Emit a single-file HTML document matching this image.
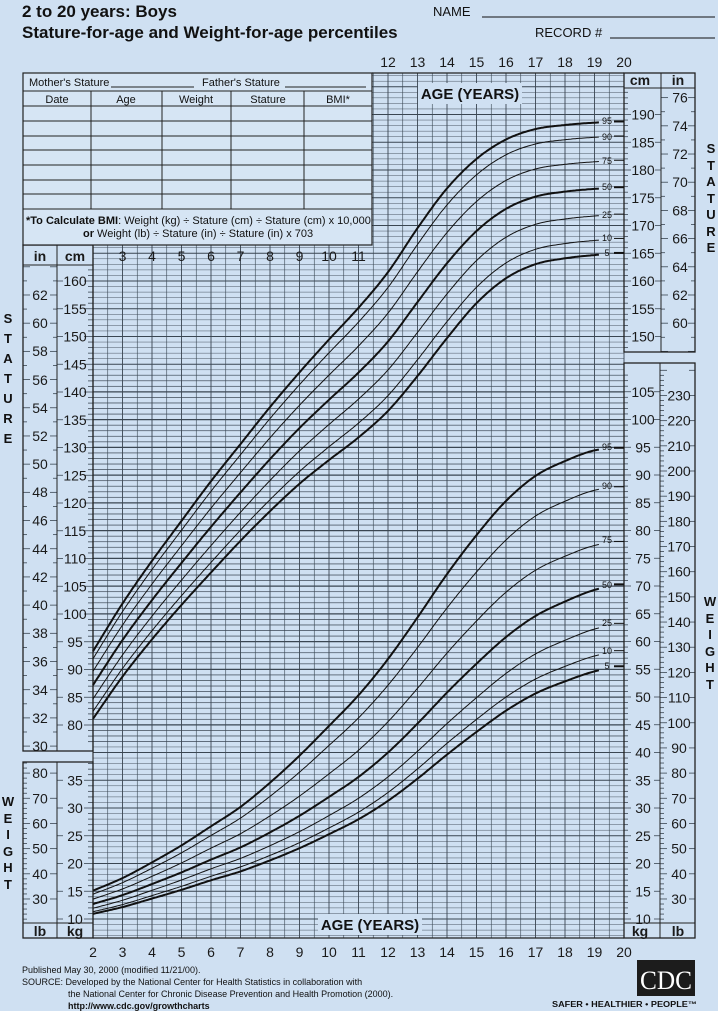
<!DOCTYPE html>
<html><head><meta charset="utf-8"><style>
html,body{margin:0;padding:0;background:#cfe0f2;}
svg{display:block;font-family:"Liberation Sans",Arial,sans-serif;}
.n{font-size:14px;fill:#1a1a1a;text-anchor:middle;dominant-baseline:central;}
.b{font-weight:bold;}
.t{font-size:11px;fill:#111;}
.p{font-size:9px;fill:#111;text-anchor:middle;dominant-baseline:central;}
.v{font-size:13px;font-weight:bold;fill:#111;text-anchor:middle;}
</style></head><body>
<svg id="s" width="718" height="1011" viewBox="0 0 718 1011" xmlns="http://www.w3.org/2000/svg">
<rect width="718" height="1011" fill="#cfe0f2"/>
<g id="dyn"></g>
<text x="22" y="17" font-size="17" font-weight="bold" fill="#111">2 to 20 years: Boys</text>
<text x="22" y="38" font-size="17" font-weight="bold" fill="#111">Stature-for-age and Weight-for-age percentiles</text>
<text x="433" y="16" font-size="13" fill="#111">NAME</text>
<line x1="482" y1="17" x2="715" y2="17" stroke="#111" stroke-width="1"/>
<text x="535" y="37" font-size="13" fill="#111">RECORD #</text>
<line x1="610" y1="38" x2="715" y2="38" stroke="#111" stroke-width="1"/>
<g class="n"><text x="388" y="62">12</text><text x="417.5" y="62">13</text><text x="447" y="62">14</text><text x="476.5" y="62">15</text><text x="506" y="62">16</text><text x="535.5" y="62">17</text><text x="565" y="62">18</text><text x="594.5" y="62">19</text><text x="624" y="62">20</text></g>
<rect x="23" y="73" width="349" height="172" fill="#d6e5f4" stroke="#222" stroke-width="1.2"/>
<g stroke="#222" stroke-width="1">
<line x1="23" y1="91" x2="372" y2="91"/><line x1="23" y1="106" x2="372" y2="106"/><line x1="23" y1="121" x2="372" y2="121"/><line x1="23" y1="136" x2="372" y2="136"/><line x1="23" y1="150" x2="372" y2="150"/><line x1="23" y1="165" x2="372" y2="165"/><line x1="23" y1="180" x2="372" y2="180"/><line x1="23" y1="194" x2="372" y2="194"/><line x1="23" y1="209" x2="372" y2="209"/>
<line x1="91" y1="91" x2="91" y2="209"/><line x1="162" y1="91" x2="162" y2="209"/><line x1="231" y1="91" x2="231" y2="209"/><line x1="304" y1="91" x2="304" y2="209"/>
<line x1="111" y1="87" x2="194" y2="87"/><line x1="285" y1="87" x2="366" y2="87"/>
</g>
<text class="t" x="29" y="86">Mother's Stature</text>
<text class="t" x="202" y="86">Father's Stature</text>
<g class="t" text-anchor="middle"><text x="57" y="103">Date</text><text x="126" y="103">Age</text><text x="196" y="103">Weight</text><text x="268" y="103">Stature</text><text x="338" y="103">BMI*</text></g>
<text class="t" x="26" y="224"><tspan font-weight="bold">*To Calculate BMI</tspan>: Weight (kg) ÷ Stature (cm) ÷ Stature (cm) x 10,000</text>
<text class="t" x="83" y="237"><tspan font-weight="bold">or</tspan> Weight (lb) ÷ Stature (in) ÷ Stature (in) x 703</text>
<g class="n">
<text x="122.5" y="256">3</text><text x="152" y="256">4</text><text x="181.5" y="256">5</text><text x="211" y="256">6</text><text x="240.5" y="256">7</text><text x="270" y="256">8</text><text x="299.5" y="256">9</text><text x="329" y="256">10</text><text x="358.5" y="256">11</text></g>
<g class="n b"><text x="40" y="256">in</text><text x="75" y="256">cm</text><text x="640" y="80">cm</text><text x="678" y="80">in</text>
<text x="40" y="931">lb</text><text x="75" y="931">kg</text><text x="640" y="931">kg</text><text x="678" y="931">lb</text></g>
<rect x="418" y="83" width="104" height="21" fill="#cfe0f2"/>
<text x="470" y="99" font-size="15" font-weight="bold" text-anchor="middle" fill="#111">AGE (YEARS)</text>
<rect x="318" y="914" width="104" height="21" fill="#cfe0f2"/>
<text x="370" y="930" font-size="15" font-weight="bold" text-anchor="middle" fill="#111">AGE (YEARS)</text>
<g class="n">
<text x="75" y="281">160</text><text x="75" y="308.75">155</text><text x="75" y="336.5">150</text><text x="75" y="364.25">145</text><text x="75" y="392">140</text><text x="75" y="419.75">135</text><text x="75" y="447.5">130</text><text x="75" y="475.25">125</text><text x="75" y="503">120</text><text x="75" y="530.75">115</text><text x="75" y="558.5">110</text><text x="75" y="586.25">105</text><text x="75" y="614">100</text><text x="75" y="641.75">95</text><text x="75" y="669.5">90</text><text x="75" y="697.25">85</text><text x="75" y="725">80</text>
<text x="40" y="746">30</text><text x="40" y="718">32</text><text x="40" y="690">34</text><text x="40" y="661.5">36</text><text x="40" y="633">38</text><text x="40" y="605">40</text><text x="40" y="577">42</text><text x="40" y="549">44</text><text x="40" y="520.5">46</text><text x="40" y="492">48</text><text x="40" y="464">50</text><text x="40" y="436">52</text><text x="40" y="408">54</text><text x="40" y="380">56</text><text x="40" y="351">58</text><text x="40" y="323">60</text><text x="40" y="295">62</text>
<text x="680" y="323">60</text><text x="680" y="295">62</text><text x="680" y="267">64</text><text x="680" y="238.6">66</text><text x="680" y="210.4">68</text><text x="680" y="182.2">70</text><text x="680" y="154">72</text><text x="680" y="125.8">74</text><text x="680" y="97.6">76</text>
<text x="643" y="336.5">150</text><text x="643" y="308.75">155</text><text x="643" y="281">160</text><text x="643" y="253.25">165</text><text x="643" y="225.5">170</text><text x="643" y="197.75">175</text><text x="643" y="170">180</text><text x="643" y="142.25">185</text><text x="643" y="114.5">190</text>
<text x="643" y="919">10</text><text x="643" y="891.25">15</text><text x="643" y="863.5">20</text><text x="643" y="835.75">25</text><text x="643" y="808">30</text><text x="643" y="780.25">35</text><text x="643" y="752.5">40</text><text x="643" y="724.75">45</text><text x="643" y="697">50</text><text x="643" y="669.25">55</text><text x="643" y="641.5">60</text><text x="643" y="613.75">65</text><text x="643" y="586">70</text><text x="643" y="558.25">75</text><text x="643" y="530.5">80</text><text x="643" y="502.75">85</text><text x="643" y="475">90</text><text x="643" y="447.25">95</text><text x="643" y="419.5">100</text><text x="643" y="391.75">105</text>
<text x="679" y="899">30</text><text x="679" y="873.8">40</text><text x="679" y="848.6">50</text><text x="679" y="823.5">60</text><text x="679" y="798.3">70</text><text x="679" y="773.1">80</text><text x="679" y="747.9">90</text><text x="679" y="722.8">100</text><text x="679" y="697.6">110</text><text x="679" y="672.4">120</text><text x="679" y="647.2">130</text><text x="679" y="622.1">140</text><text x="679" y="596.9">150</text><text x="679" y="571.7">160</text><text x="679" y="546.5">170</text><text x="679" y="521.4">180</text><text x="679" y="496.2">190</text><text x="679" y="471">200</text><text x="679" y="445.8">210</text><text x="679" y="420.6">220</text><text x="679" y="395.5">230</text>
<text x="40" y="899">30</text><text x="40" y="873.8">40</text><text x="40" y="848.6">50</text><text x="40" y="823.5">60</text><text x="40" y="798.3">70</text><text x="40" y="773.1">80</text>
<text x="75" y="919">10</text><text x="75" y="891.25">15</text><text x="75" y="863.5">20</text><text x="75" y="835.75">25</text><text x="75" y="808">30</text><text x="75" y="780.25">35</text>
<text x="93" y="952">2</text><text x="122.5" y="952">3</text><text x="152" y="952">4</text><text x="181.5" y="952">5</text><text x="211" y="952">6</text><text x="240.5" y="952">7</text><text x="270" y="952">8</text><text x="299.5" y="952">9</text><text x="329" y="952">10</text><text x="358.5" y="952">11</text><text x="388" y="952">12</text><text x="417.5" y="952">13</text><text x="447" y="952">14</text><text x="476.5" y="952">15</text><text x="506" y="952">16</text><text x="535.5" y="952">17</text><text x="565" y="952">18</text><text x="594.5" y="952">19</text><text x="624" y="952">20</text>
</g>
<g class="p">
<text x="607" y="121">95</text><text x="607" y="137">90</text><text x="607" y="161">75</text><text x="607" y="187">50</text><text x="607" y="215">25</text><text x="607" y="238">10</text><text x="607" y="253">5</text>
<text x="607" y="447">95</text><text x="607" y="486">90</text><text x="607" y="540">75</text><text x="607" y="585">50</text><text x="607" y="623">25</text><text x="607" y="651">10</text><text x="607" y="666">5</text>
</g>
<g class="v">
<text x="8" y="323">S</text><text x="8" y="343">T</text><text x="8" y="363">A</text><text x="8" y="383">T</text><text x="8" y="403">U</text><text x="8" y="423">R</text><text x="8" y="443">E</text>
<text x="711" y="153">S</text><text x="711" y="170">T</text><text x="711" y="186">A</text><text x="711" y="203">T</text><text x="711" y="219">U</text><text x="711" y="236">R</text><text x="711" y="252">E</text>
<text x="8" y="806">W</text><text x="8" y="823">E</text><text x="8" y="839">I</text><text x="8" y="856">G</text><text x="8" y="872">H</text><text x="8" y="889">T</text>
<text x="710" y="606">W</text><text x="710" y="623">E</text><text x="710" y="639">I</text><text x="710" y="656">G</text><text x="710" y="672">H</text><text x="710" y="689">T</text>
</g>
<g font-size="9" fill="#111">
<text x="22" y="973">Published May 30, 2000 (modified 11/21/00).</text>
<text x="22" y="985">SOURCE: Developed by the National Center for Health Statistics in collaboration with</text>
<text x="68" y="997">the National Center for Chronic Disease Prevention and Health Promotion (2000).</text>
<text x="68" y="1009" font-weight="bold">http://www.cdc.gov/growthcharts</text>
</g>
<rect x="637" y="960" width="58" height="36" fill="#1c1c1c"/>
<text x="666" y="989" font-size="26" font-family="Liberation Serif,serif" fill="#fff" text-anchor="middle" textLength="52" lengthAdjust="spacingAndGlyphs">CDC</text>
<text x="552" y="1007" font-size="8" font-weight="bold" fill="#111" textLength="145" lengthAdjust="spacingAndGlyphs">SAFER • HEALTHIER • PEOPLE™</text>
</svg>
<script>
(function(){
const X=a=>93+(a-2)*29.5, YS=c=>281+(160-c)*5.55, YW=k=>919-(k-10)*5.55;
let s='';const C='#3a4652';
function L(x1,y1,x2,y2,w,c){s+='<line x1="'+x1.toFixed(2)+'" y1="'+y1.toFixed(2)+'" x2="'+x2.toFixed(2)+'" y2="'+y2.toFixed(2)+'" stroke="'+(c||C)+'" stroke-width="'+w+'"/>';}
for(let i=0;i<=36;i++){const x=X(2+i/2);const top=x>=372?73:245;L(x,top,x,938,i%2?0.6:0.9);}
for(let cm=77;cm<=197;cm++){const y=YS(cm);if(y<74||y>751)continue;const x1=y<245?372:93;const m=cm%5==0;L(x1,y,624,y,m?1.1:0.45);
 if(y>265){L(m?84:88,y,93,y,0.8);if(m)L(57,y,63,y,0.8);}
 if(y<352&&y>88){L(624,y,m?631:628,y,0.8);if(m)L(655,y,661,y,0.8);}}
for(let inch=29;inch<=77;inch++){const y=1169-14.097*inch;const e=inch%2==0;
 if(y>265&&y<751){L(23,y,e?30:27,y,0.8);L(e?50:53,y,57,y,0.8);}
 if(y>88&&y<352){L(661,y,e?668:665,y,0.8);L(e?688:691,y,695,y,0.8);}}
for(let kg=7;kg<=108;kg++){const y=YW(kg);if(y<364||y>937)continue;const m=kg%5==0;L(93,y,624,y,m?1.1:0.45);
 if(y<923){L(624,y,m?631:628,y,0.8);if(m)L(654,y,660,y,0.8);
 if(y>762){L(m?84:88,y,93,y,0.8);if(m)L(57,y,63,y,0.8);}}}
for(let lb=20;lb<=240;lb+=2){const y=974.5-2.5175*lb;if(y<364||y>922)continue;const m=lb%10==0;
 L(660,y,m?667:664,y,0.8);if(m)L(689,y,695,y,0.8);
 if(y>762){L(23,y,m?30:27,y,0.8);if(m)L(50,y,57,y,0.8);}}
const B='#222';
s+='<rect x="23" y="245" width="70" height="506" fill="none" stroke="'+B+'" stroke-width="1.3"/>';
L(57,245,57,751,1,B);L(23,265,93,265,1,B);
s+='<rect x="23" y="762" width="70" height="176" fill="none" stroke="'+B+'" stroke-width="1.3"/>';
L(57,762,57,938,1,B);L(23,923,93,923,1,B);
s+='<rect x="624" y="73" width="71" height="279" fill="none" stroke="'+B+'" stroke-width="1.3"/>';
L(661,73,661,352,1,B);L(624,88,695,88,1,B);
s+='<rect x="624" y="363" width="71" height="575" fill="none" stroke="'+B+'" stroke-width="1.3"/>';
L(660,363,660,938,1,B);L(624,923,695,923,1,B);
L(372,73,624,73,1.3,B);L(93,938,624,938,1.3,B);L(93,245,93,938,1.1,B);
function cr(a,t){const n=a.length;let i=Math.floor(t);if(i>=n-1)i=n-2;if(i<0)i=0;const f=t-i;
 const p1=a[i],p2=a[i+1];const p0=i>0?a[i-1]:2*p1-p2;const p3=i+2<n?a[i+2]:2*p2-p1;
 return 0.5*((2*p1)+(-p0+p2)*f+(2*p0-5*p1+4*p2-p3)*f*f+(-p0+3*p1-3*p2+p3)*f*f*f);}
const medS=[87.2,95.3,102.5,109.2,115.7,121.9,127.9,133.5,138.6,143.5,149.1,156.2,163.2,169.0,173.0,175.2,176.1,176.6,176.9];
const sdS=[3.7,4.0,4.3,4.6,5.0,5.3,5.7,6.1,6.6,7.1,7.6,8.1,8.2,7.9,7.6,7.4,7.3,7.25,7.2];
const medW=[12.7,14.3,16.3,18.4,20.7,22.9,25.6,28.6,32.0,35.6,40.0,45.2,50.8,56.0,60.8,64.6,67.2,69.3,70.3];
const Z=[-1.645,-1.282,-0.674,0,0.674,1.282,1.645];
const RA=[2,6,10,14,20];
const R=[[.86,.82,.79,.78,.79],[.89,.855,.825,.82,.83],[.94,.92,.895,.89,.90],[1,1,1,1,1],[1.07,1.10,1.13,1.14,1.11],[1.14,1.21,1.29,1.30,1.25],[1.19,1.29,1.40,1.42,1.35]];
for(let p=0;p<7;p++){const w=(p==0||p==3||p==6)?2:1;let ps='',pw='';
 const rt=R[p];
 const rf=a=>cr(rt,(function(){for(let i=0;i<RA.length-1;i++){if(a<=RA[i+1])return i+(a-RA[i])/(RA[i+1]-RA[i]);}return RA.length-1;})());
 for(let a=2;a<=19.151;a+=0.05){const t=a-2;
  const cm=cr(medS,t)+Z[p]*cr(sdS,t);
  const kg=cr(medW,t)*rf(a);
  ps+=X(a).toFixed(1)+','+YS(cm).toFixed(1)+' ';pw+=X(a).toFixed(1)+','+YW(kg).toFixed(1)+' ';}
 s+='<polyline points="'+ps+'" fill="none" stroke="#111" stroke-width="'+w+'" stroke-linejoin="round"/>';
 s+='<polyline points="'+pw+'" fill="none" stroke="#111" stroke-width="'+w+'" stroke-linejoin="round"/>';
 const ys=YS(176.9+Z[p]*7.2), yw=YW(70.3*R[p][4]);
 L(614,ys,624,ys,w,'#111');L(614,yw,624,yw,w,'#111');}
document.getElementById('dyn').innerHTML=s;
})();
</script>
</body></html>
